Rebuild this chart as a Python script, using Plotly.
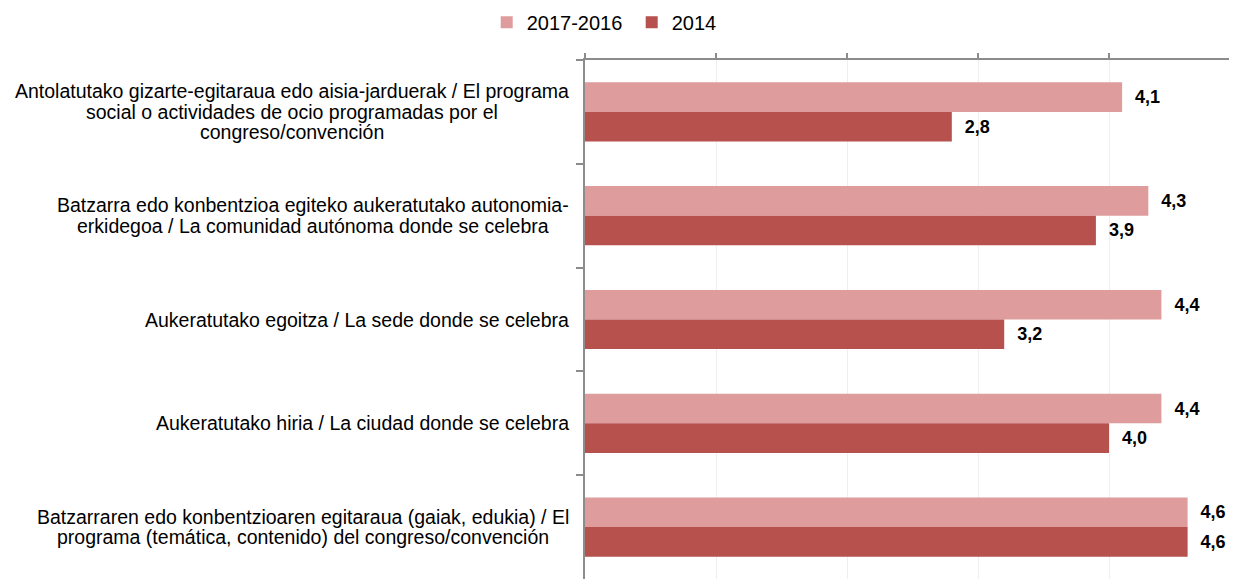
import plotly.graph_objects as go

categories = [
    "Antolatutako gizarte-egitaraua edo aisia-jarduerak / El programa<br>social o actividades de ocio programadas por el<br>congreso/convención",
    "Batzarra edo konbentzioa egiteko aukeratutako autonomia-<br>erkidegoa / La comunidad autónoma donde se celebra",
    "Aukeratutako egoitza / La sede donde se celebra",
    "Aukeratutako hiria / La ciudad donde se celebra",
    "Batzarraren edo konbentzioaren egitaraua (gaiak, edukia) / El<br>programa (temática, contenido) del congreso/convención",
]
series_names = ["2017-2016", "2014"]
values_2017_2016 = [4.1, 4.3, 4.4, 4.4, 4.6]
values_2014 = [2.8, 3.9, 3.2, 4.0, 4.6]

colors = ["#DE9C9C", "#B6514E"]
FONT = "Arial, Liberation Sans, sans-serif"
LABEL_SIZE = 19.5
LINE_H = 20.5

# Arial (Liberation Sans) advance widths, per 1000 em, for centring label lines
_W = {' ': 278, '/': 278, '-': 333, '(': 333, ')': 333, ',': 278, '.': 278,
      'a': 556, 'b': 556, 'c': 500, 'd': 556, 'e': 556, 'f': 278, 'g': 556,
      'h': 556, 'i': 222, 'j': 222, 'k': 500, 'l': 222, 'm': 833, 'n': 556,
      'o': 556, 'p': 556, 'q': 556, 'r': 333, 's': 500, 't': 278, 'u': 556,
      'v': 500, 'w': 722, 'x': 500, 'y': 500, 'z': 500,
      'á': 556, 'é': 556, 'í': 278, 'ó': 556, 'ú': 556,
      'A': 667, 'B': 667, 'C': 722, 'D': 722, 'E': 667, 'F': 611, 'G': 778,
      'H': 722, 'I': 278, 'J': 500, 'K': 667, 'L': 556, 'M': 833, 'N': 722,
      'O': 778, 'P': 667, 'R': 722, 'S': 667, 'T': 611, 'U': 722}


def text_width(s, size):
    return sum(_W.get(ch, 556) for ch in s) / 1000.0 * size


fig = go.Figure()
for name, vals, col in zip(series_names, [values_2017_2016, values_2014], colors):
    fig.add_trace(go.Bar(
        y=categories, x=vals, name=name, orientation="h",
        marker=dict(color=col, line=dict(width=0)),
        text=["\u00a0\u00a0" + f"{v:.1f}".replace(".", ",") for v in vals],
        textposition="outside",
        textfont=dict(family=FONT, size=18, color="black", weight="bold"),
        cliponaxis=False,
    ))

# category labels: centred multi-line blocks, right edge next to the axis
for cat in categories:
    lines = cat.split("<br>")
    n = len(lines)
    widths = [text_width(ln, LABEL_SIZE) for ln in lines]
    maxw = max(widths)
    for i, (ln, w) in enumerate(zip(lines, widths)):
        fig.add_annotation(
            x=0, xref="paper", xanchor="right",
            xshift=-14 - (maxw - w) / 2,
            y=cat, yref="y", yanchor="middle",
            yshift=((n - 1) / 2 - i) * LINE_H,
            text=ln, showarrow=False, align="center",
            font=dict(family=FONT, size=LABEL_SIZE, color="black"),
        )

fig.update_layout(
    template="none",
    width=1229, height=571,
    margin=dict(l=577, r=0, t=52, b=0, pad=0),
    paper_bgcolor="white", plot_bgcolor="white",
    barmode="group", bargap=0.43, bargroupgap=0,
    font=dict(family=FONT, size=18, color="black"),
    showlegend=True,
    legend=dict(orientation="h", xref="container", yref="container",
                x=0.3895, y=0.975, xanchor="left", yanchor="middle",
                font=dict(family=FONT, size=20, color="black"),
                itemwidth=30, entrywidth=100, tracegroupgap=0,
                bgcolor="rgba(0,0,0,0)"),
    xaxis=dict(side="top", range=[0, 4.977], dtick=1, tick0=0,
               showticklabels=False, automargin=False,
               showline=True, linecolor="#8C8C8C", linewidth=1.5,
               ticks="outside", ticklen=5, tickcolor="#8C8C8C", tickwidth=1.5,
               showgrid=True, gridcolor="#EFEFEF", gridwidth=1, zeroline=False),
    yaxis=dict(autorange="reversed", showticklabels=False, automargin=False,
               showline=True, linecolor="#8C8C8C", linewidth=1.5,
               ticks="outside", tickson="boundaries", ticklen=7,
               tickcolor="#8C8C8C", tickwidth=1.5, showgrid=False, zeroline=False),
)

fig.write_html("out.html")
